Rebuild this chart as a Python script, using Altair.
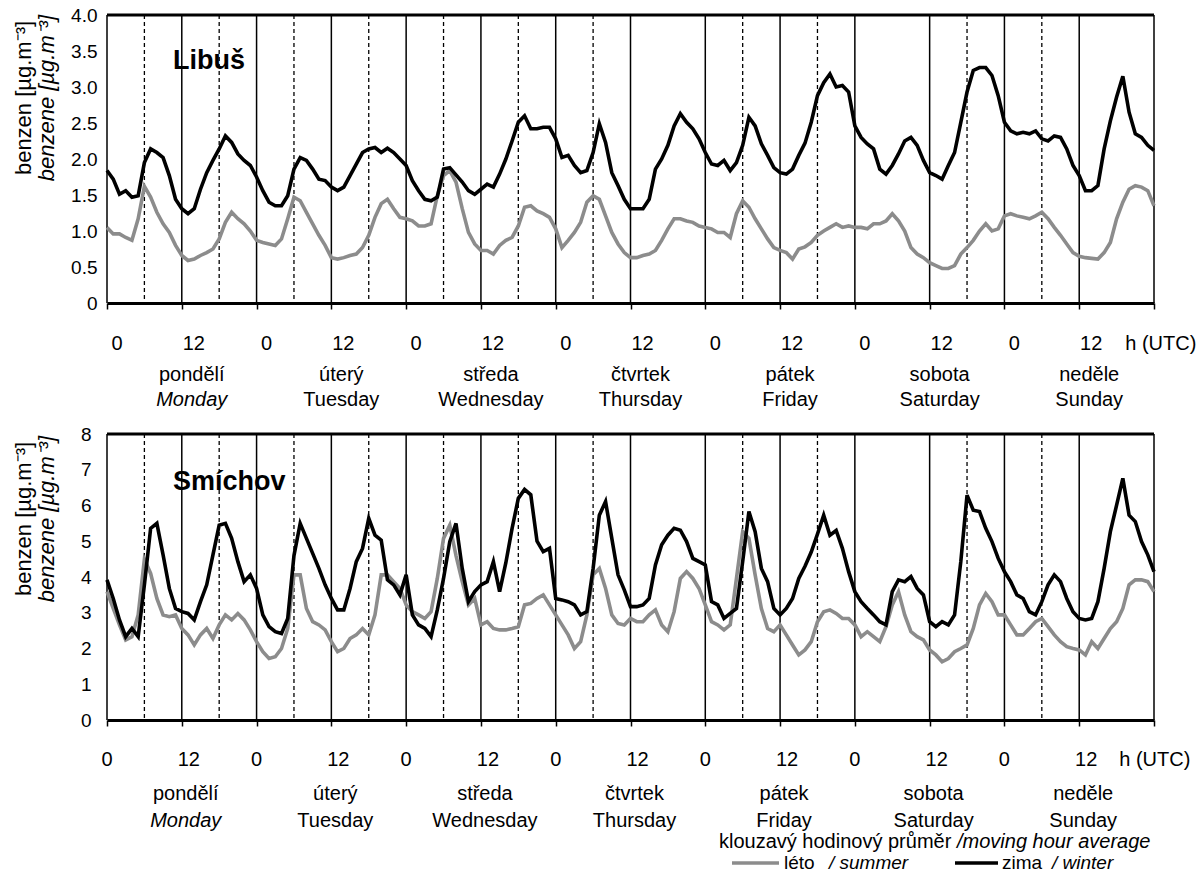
import altair as alt
import pandas as pd

FONT = "Liberation Sans"
GRAY = "#8c8c8c"
PLOT_W = 1047

# hour of the week, Monday 0:00 UTC .. next Monday 0:00
hours = list(range(169))

# Libuš, moving hour average of benzene [µg.m-3]
libus_leto = [
    1.05, 0.96, 0.96, 0.91, 0.87, 1.17, 1.62, 1.47, 1.26, 1.10, 0.98, 0.80,
    0.66, 0.59, 0.61, 0.66, 0.70, 0.75, 0.89, 1.12, 1.26, 1.17, 1.10, 1.00,
    0.87, 0.84, 0.82, 0.80, 0.89, 1.17, 1.47, 1.42, 1.26, 1.10, 0.94, 0.80,
    0.63, 0.61, 0.63, 0.66, 0.68, 0.77, 0.94, 1.19, 1.38, 1.44, 1.31, 1.19,
    1.17, 1.14, 1.07, 1.07, 1.10, 1.49, 1.77, 1.84, 1.68, 1.31, 0.98, 0.82,
    0.73, 0.73, 0.68, 0.80, 0.87, 0.91, 1.07, 1.33, 1.35, 1.28, 1.24, 1.19,
    1.03, 0.77, 0.87, 0.98, 1.12, 1.40, 1.49, 1.44, 1.21, 0.98, 0.82, 0.70,
    0.63, 0.63, 0.66, 0.68, 0.73, 0.87, 1.03, 1.17, 1.17, 1.14, 1.12, 1.07,
    1.05, 1.03, 0.98, 0.98, 0.91, 1.24, 1.42, 1.33, 1.17, 1.03, 0.89, 0.77,
    0.73, 0.70, 0.61, 0.75, 0.78, 0.84, 0.94, 1.00, 1.05, 1.10, 1.05, 1.07,
    1.05, 1.05, 1.03, 1.10, 1.10, 1.14, 1.24, 1.14, 1.00, 0.77, 0.68, 0.63,
    0.56, 0.52, 0.48, 0.48, 0.52, 0.68, 0.77, 0.87, 1.00, 1.10, 1.00, 1.03,
    1.21, 1.24, 1.21, 1.19, 1.17, 1.21, 1.26, 1.17, 1.05, 0.94, 0.82, 0.70,
    0.65, 0.63, 0.62, 0.61, 0.70, 0.84, 1.17, 1.40, 1.58, 1.63, 1.61, 1.56,
    1.35,
]
libus_zima = [
    1.84, 1.72, 1.51, 1.56, 1.47, 1.49, 1.95, 2.14, 2.09, 2.02, 1.77, 1.44,
    1.31, 1.24, 1.31, 1.58, 1.81, 1.98, 2.14, 2.32, 2.23, 2.07, 1.98, 1.91,
    1.75, 1.56, 1.40, 1.35, 1.35, 1.49, 1.86, 2.02, 1.98, 1.86, 1.72, 1.70,
    1.61, 1.56, 1.61, 1.77, 1.93, 2.09, 2.14, 2.16, 2.09, 2.15, 2.09, 2.00,
    1.91, 1.70, 1.56, 1.44, 1.42, 1.47, 1.86, 1.88, 1.78, 1.68, 1.56, 1.51,
    1.58, 1.65, 1.61, 1.79, 2.00, 2.25, 2.51, 2.60, 2.42, 2.42, 2.44, 2.44,
    2.28, 2.02, 2.05, 1.91, 1.81, 1.84, 2.09, 2.49, 2.23, 1.81, 1.63, 1.44,
    1.31, 1.31, 1.31, 1.44, 1.86, 2.00, 2.19, 2.46, 2.63, 2.51, 2.42, 2.28,
    2.09, 1.93, 1.91, 1.98, 1.84, 1.95, 2.19, 2.58, 2.46, 2.21, 2.05, 1.88,
    1.81, 1.79, 1.86, 2.05, 2.22, 2.51, 2.88, 3.06, 3.18, 3.00, 3.02, 2.93,
    2.46, 2.30, 2.21, 2.14, 1.86, 1.79, 1.91, 2.07, 2.25, 2.30, 2.19, 1.98,
    1.81, 1.77, 1.72, 1.91, 2.09, 2.51, 2.93, 3.23, 3.27, 3.27, 3.16, 2.88,
    2.51, 2.39, 2.35, 2.37, 2.35, 2.39, 2.28, 2.25, 2.32, 2.30, 2.14, 1.91,
    1.77, 1.56, 1.56, 1.63, 2.14, 2.53, 2.86, 3.15, 2.65, 2.35, 2.30, 2.19,
    2.12,
]

# Smíchov, moving hour average of benzene [µg.m-3]
smichov_leto = [
    3.59, 3.12, 2.66, 2.24, 2.33, 2.94, 4.50, 4.10, 3.40, 2.94, 2.89, 2.94,
    2.56, 2.38, 2.10, 2.38, 2.56, 2.28, 2.66, 2.94, 2.80, 2.98, 2.80, 2.52,
    2.19, 1.91, 1.72, 1.77, 2.00, 2.56, 4.06, 4.06, 3.12, 2.75, 2.66, 2.52,
    2.19, 1.91, 2.00, 2.28, 2.38, 2.56, 2.38, 2.94, 4.06, 4.06, 3.87, 3.68,
    3.22, 3.03, 2.94, 2.84, 3.03, 3.96, 5.08, 5.45, 4.60, 3.87, 3.22, 3.40,
    2.66, 2.75, 2.56, 2.52, 2.52, 2.56, 2.61, 3.22, 3.26, 3.40, 3.50, 3.22,
    2.94, 2.66, 2.38, 2.00, 2.19, 2.94, 4.06, 4.24, 3.68, 2.94, 2.70, 2.66,
    2.84, 2.75, 2.75, 2.94, 3.08, 2.66, 2.47, 3.03, 3.96, 4.15, 3.96, 3.68,
    3.22, 2.75, 2.66, 2.52, 2.66, 3.96, 5.27, 5.08, 4.06, 3.12, 2.56, 2.47,
    2.66, 2.38, 2.10, 1.82, 1.96, 2.19, 2.75, 3.03, 3.08, 2.98, 2.84, 2.84,
    2.66, 2.33, 2.47, 2.33, 2.19, 2.61, 3.22, 3.59, 2.94, 2.47, 2.33, 2.24,
    1.96, 1.82, 1.63, 1.72, 1.91, 2.00, 2.10, 2.56, 3.22, 3.54, 3.31, 2.94,
    2.94, 2.66, 2.38, 2.38, 2.56, 2.75, 2.84, 2.61, 2.38, 2.19, 2.05, 2.00,
    1.96, 1.82, 2.19, 2.00, 2.28, 2.56, 2.75, 3.12, 3.78, 3.92, 3.92, 3.87,
    3.59,
]
smichov_zima = [
    3.92, 3.40, 2.80, 2.33, 2.56, 2.33, 3.78, 5.36, 5.50, 4.62, 3.68, 3.12,
    3.03, 2.98, 2.80, 3.31, 3.78, 4.62, 5.45, 5.50, 5.08, 4.43, 3.87, 4.06,
    3.68, 2.94, 2.61, 2.47, 2.42, 2.84, 4.60, 5.50, 5.08, 4.66, 4.24, 3.78,
    3.40, 3.08, 3.08, 3.68, 4.43, 4.80, 5.64, 5.17, 5.03, 3.92, 3.78, 3.50,
    4.06, 2.94, 2.66, 2.56, 2.33, 3.08, 3.96, 4.99, 5.50, 4.24, 3.31, 3.59,
    3.78, 3.87, 4.43, 3.59, 4.40, 5.36, 6.20, 6.45, 6.30, 5.00, 4.71, 4.80,
    3.40, 3.36, 3.31, 3.22, 2.94, 3.03, 4.24, 5.73, 6.11, 5.08, 4.06, 3.64,
    3.17, 3.17, 3.22, 3.40, 4.34, 4.90, 5.17, 5.36, 5.31, 4.99, 4.52, 4.43,
    4.34, 3.31, 3.22, 2.84, 2.98, 3.12, 4.43, 5.83, 5.27, 4.24, 3.87, 3.12,
    2.94, 3.12, 3.40, 3.96, 4.30, 4.70, 5.20, 5.73, 5.17, 5.30, 4.80, 4.15,
    3.59, 3.31, 3.12, 2.94, 2.75, 2.66, 3.59, 3.92, 3.87, 4.01, 3.68, 3.50,
    2.75, 2.61, 2.75, 2.66, 2.94, 4.43, 6.29, 5.87, 5.83, 5.36, 4.99, 4.52,
    4.15, 3.87, 3.50, 3.40, 3.03, 2.94, 3.31, 3.78, 4.06, 3.87, 3.40, 3.03,
    2.84, 2.80, 2.84, 3.31, 4.24, 5.27, 6.01, 6.76, 5.73, 5.55, 4.99, 4.62,
    4.15,
]

seasons = ["léto", "zima"]
solid_hours = list(range(0, 169, 12))
dashed_hours = [6, 18, 30, 42, 54, 66, 78, 102, 114, 138, 150]
tick_hours = list(range(0, 168, 12))
tick_text = ["0", "12"] * 7
noon_hours = list(range(12, 168, 24))
days_cz = ["pondělí", "úterý", "středa", "čtvrtek", "pátek", "sobota", "neděle"]
days_en = ["Monday", "Tuesday", "Wednesday", "Thursday", "Friday", "Saturday", "Sunday"]
libus_ticks = [0, 0.5, 1.0, 1.5, 2.0, 2.5, 3.0, 3.5, 4.0]
smichov_ticks = [0, 1, 2, 3, 4, 5, 6, 7, 8]

Y_TITLE_1 = "benzen [µg.m⁻³]"
Y_TITLE_2 = "benzene [µg.m⁻³]"


def txt(**kw):
    base = dict(font=FONT, color="black", baseline="middle", align="center")
    base.update(kw)
    return base


def panel(leto, zima, station, y_max, y_values, label_expr, height,
          label_pad, tick_y, cz_y, en_y, dx0, dx12, day_dx, utc_dx,
          title_y, ytitle_y, legend=False):
    x_enc = alt.X(
        "hour:Q",
        scale=alt.Scale(domain=[0, 168], nice=False, zero=False),
        axis=alt.Axis(values=solid_hours, labels=False, ticks=True, tickSize=6,
                      tickWidth=1.5, tickColor="black", domain=True,
                      domainWidth=3, domainColor="black", grid=False, title=None),
    )
    y_enc = alt.Y(
        "value:Q",
        scale=alt.Scale(domain=[0, y_max], nice=False, zero=True),
        axis=alt.Axis(values=y_values, labelExpr=label_expr, domain=False,
                      ticks=False, grid=False, labelFontSize=19, labelFont=FONT,
                      labelColor="black", labelPadding=label_pad, title=None),
    )

    n = len(hours)
    series = pd.DataFrame({
        "hour": hours + hours,
        "value": leto + zima,
        "season": [seasons[0]] * n + [seasons[1]] * n,
    })
    lines = alt.Chart(series).mark_line(strokeWidth=3.6).encode(
        x=x_enc, y=y_enc,
        color=alt.Color("season:N", scale=alt.Scale(domain=seasons, range=[GRAY, "black"]),
                        legend=None),
    )

    solid = alt.Chart(pd.DataFrame({"hour": solid_hours})).mark_rule(
        color="black", strokeWidth=1.5).encode(x=x_enc)
    dashed = alt.Chart(pd.DataFrame({"hour": dashed_hours})).mark_rule(
        color="black", strokeWidth=1.3, strokeDash=[4, 3]).encode(x=x_enc)
    one = pd.DataFrame({"k": [0]})
    top_rule = alt.Chart(one).mark_rule(color="black", strokeWidth=3).encode(
        y=alt.value(0))

    ticks_df = pd.DataFrame({"hour": tick_hours, "lab": tick_text})
    zeros = alt.Chart(ticks_df).transform_filter(alt.datum.lab == "0").mark_text(
        **txt(fontSize=20, dx=dx0)).encode(x=x_enc, y=alt.value(height + tick_y), text="lab:N")
    twelves = alt.Chart(ticks_df).transform_filter(alt.datum.lab == "12").mark_text(
        **txt(fontSize=20, dx=dx12)).encode(x=x_enc, y=alt.value(height + tick_y), text="lab:N")
    utc = alt.Chart(pd.DataFrame({"hour": [tick_hours[-1]]})).mark_text(
        **txt(fontSize=20, align="left", dx=utc_dx)).encode(
        x=x_enc, y=alt.value(height + tick_y), text=alt.value("h (UTC)"))

    days_df = pd.DataFrame({"hour": noon_hours, "cz": days_cz, "en": days_en})
    cz = alt.Chart(days_df).mark_text(**txt(fontSize=20, dx=day_dx)).encode(
        x=x_enc, y=alt.value(height + cz_y), text="cz:N")
    en_it = alt.Chart(days_df).transform_filter(alt.datum.en == days_en[0]).mark_text(
        **txt(fontSize=20, dx=day_dx, fontStyle="italic")).encode(
        x=x_enc, y=alt.value(height + en_y), text="en:N")
    en = alt.Chart(days_df).transform_filter(alt.datum.en != days_en[0]).mark_text(
        **txt(fontSize=20, dx=day_dx)).encode(
        x=x_enc, y=alt.value(height + en_y), text="en:N")

    name = alt.Chart(one).mark_text(**txt(fontSize=27, fontWeight="bold", align="left")).encode(
        x=alt.value(66), y=alt.value(title_y), text=alt.value(station))
    yt1 = alt.Chart(one).mark_text(**txt(fontSize=22, angle=270)).encode(
        x=alt.value(-83), y=alt.value(ytitle_y), text=alt.value(Y_TITLE_1))
    yt2 = alt.Chart(one).mark_text(**txt(fontSize=22, angle=270, fontStyle="italic")).encode(
        x=alt.value(-60), y=alt.value(ytitle_y), text=alt.value(Y_TITLE_2))

    layers = [solid, dashed, lines, top_rule, zeros, twelves, utc, cz, en, en_it, name, yt1, yt2]

    if legend:
        ly1 = height + 122
        ly2 = height + 143
        layers += [
            alt.Chart(one).mark_text(**txt(fontSize=20, align="left")).encode(
                x=alt.value(612), y=alt.value(ly1), text=alt.value("klouzavý hodinový průměr")),
            alt.Chart(one).mark_text(**txt(fontSize=20, align="left", fontStyle="italic")).encode(
                x=alt.value(850), y=alt.value(ly1), text=alt.value("/moving hour average")),
            alt.Chart(one).mark_rule(color=GRAY, strokeWidth=3.5).encode(
                x=alt.value(625), x2=alt.value(672), y=alt.value(ly2)),
            alt.Chart(one).mark_text(**txt(fontSize=19, align="left")).encode(
                x=alt.value(677), y=alt.value(ly2), text=alt.value("léto")),
            alt.Chart(one).mark_text(**txt(fontSize=19, align="left", fontStyle="italic")).encode(
                x=alt.value(722), y=alt.value(ly2), text=alt.value("/ summer")),
            alt.Chart(one).mark_rule(color="black", strokeWidth=3.5).encode(
                x=alt.value(848), x2=alt.value(891), y=alt.value(ly2)),
            alt.Chart(one).mark_text(**txt(fontSize=19, align="left")).encode(
                x=alt.value(895), y=alt.value(ly2), text=alt.value("zima")),
            alt.Chart(one).mark_text(**txt(fontSize=19, align="left", fontStyle="italic")).encode(
                x=alt.value(945), y=alt.value(ly2), text=alt.value("/ winter")),
        ]

    return alt.layer(*layers).properties(width=PLOT_W, height=height)


libus = panel(
    libus_leto, libus_zima, "Libuš", 4.0, libus_ticks,
    "datum.value == 0 ? '0' : format(datum.value, '.1f')", 288,
    label_pad=10, tick_y=41, cz_y=72, en_y=97, dx0=10, dx12=12, day_dx=10,
    utc_dx=46, title_y=46, ytitle_y=83,
)
smichov = panel(
    smichov_leto, smichov_zima, "Smíchov", 8, smichov_ticks,
    "format(datum.value, 'd')", 286,
    label_pad=16, tick_y=40, cz_y=74, en_y=101, dx0=0, dx12=7, day_dx=4,
    utc_dx=40, title_y=48, ytitle_y=85, legend=True,
)

chart = (
    alt.vconcat(libus, smichov, spacing=15)
    .properties(padding={"left": 13, "top": 6, "right": 0, "bottom": 0})
    .configure(font=FONT)
    .configure_view(stroke=None)
)

chart.save("out.html", embed_options={"renderer": "svg", "actions": False})
